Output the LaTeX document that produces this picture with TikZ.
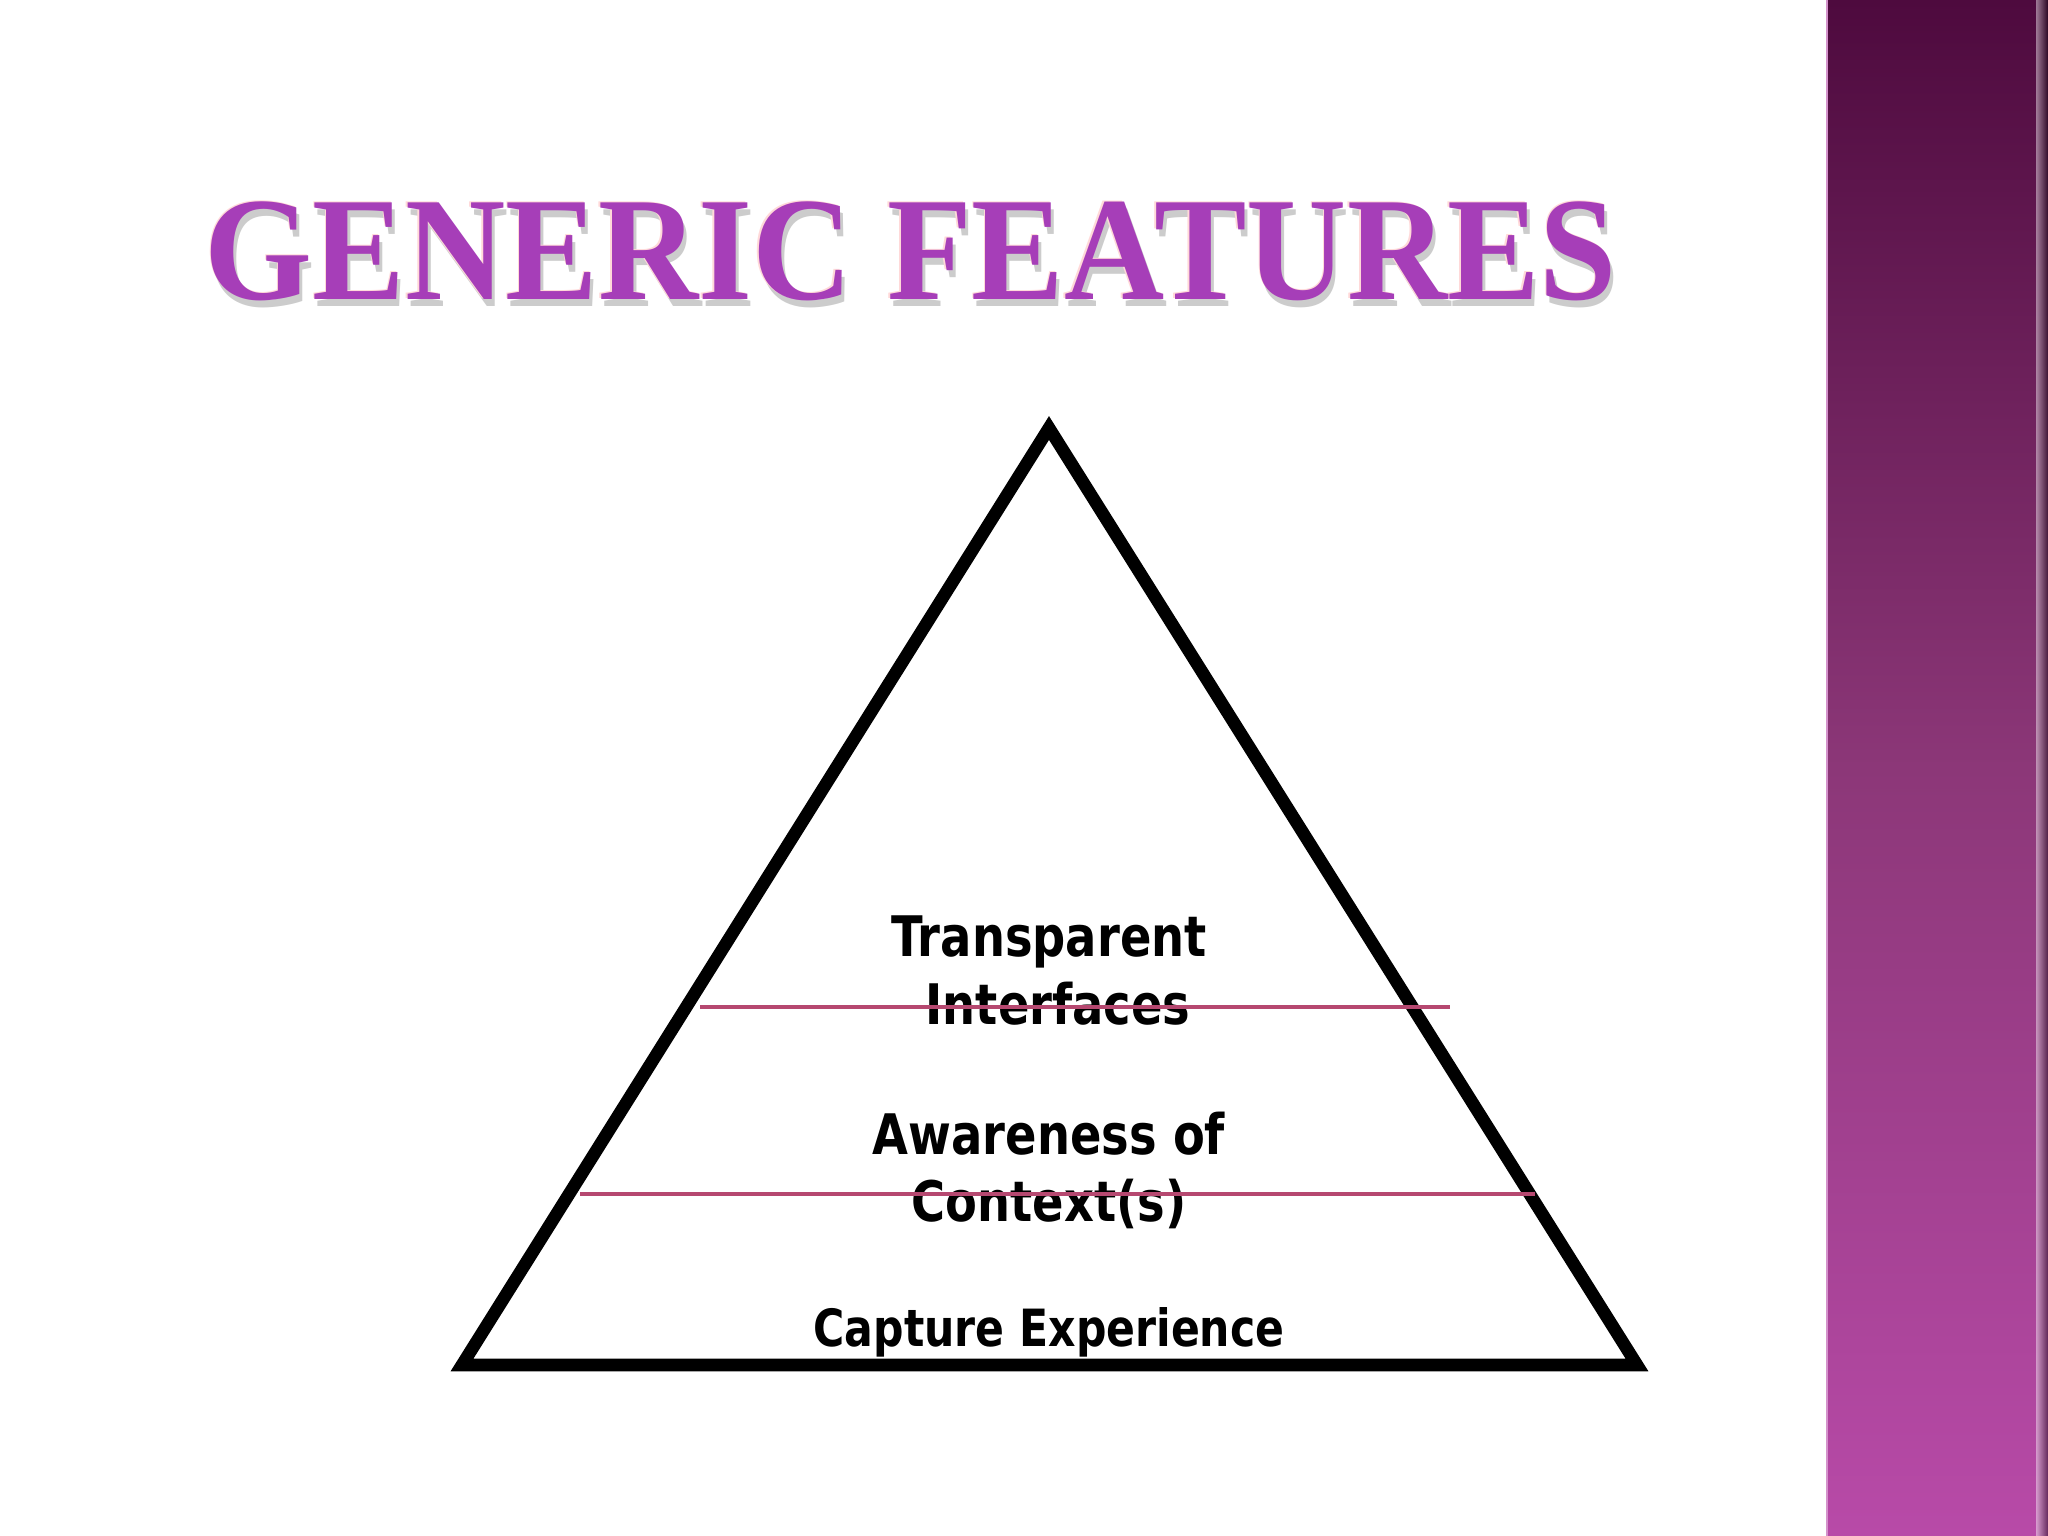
\documentclass[tikz,border=0pt]{standalone}
\usepackage{fontspec}
\usepackage{xcolor}
\newfontfamily\labelfont{DejaVu Sans}[FakeStretch=0.83]
\newfontfamily\titlefont{Liberation Serif}[FakeStretch=0.94]
\definecolor{plumtop}{RGB}{78,10,62}
\definecolor{plummid}{RGB}{140,55,120}
\definecolor{plumbot}{RGB}{184,74,168}
\definecolor{titlepurple}{RGB}{166,62,184}
\definecolor{layerline}{RGB}{182,72,112}

\begin{document}
\begin{tikzpicture}[
    level/.style={font=\labelfont\bfseries\fontsize{15.9}{19}\selectfont,inner sep=0pt,anchor=base},
    baselevel/.style={font=\labelfont\bfseries\fontsize{14.6}{17}\selectfont,inner sep=0pt,anchor=base},
    heading/.style={font=\titlefont\bfseries\fontsize{42}{48}\selectfont,inner sep=0pt,anchor=base}]
    \useasboundingbox (0,0) rectangle (20.48,15.36);
    \fill[white] (0,0) rectangle (20.48,15.36);
    % side bar
    \shade[top color=plumtop,bottom color=plumbot,middle color=plummid] (18.26,0) rectangle (20.48,15.36);
    \shade[left color=plumtop!0,right color=black,opacity=0.45] (20.36,0) rectangle (20.48,15.36);
    \draw[plumbot!60!white,line width=0.6pt] (18.27,0)--(18.27,15.36);
    % title
    \node[heading,text=gray!40] (T0) at (9.14,12.29) {GENERIC FEATURES};
    \node[heading,text=pink!60!white] (T1) at (9.095,12.375) {GENERIC FEATURES};
    \node[heading,text=titlepurple] (T) at (9.11,12.36) {GENERIC FEATURES};
    % pyramid
    \coordinate (top) at (10.49,11.08);
    \coordinate (bl) at (4.62,1.71);
    \coordinate (br) at (16.37,1.71);
    \draw[line width=3.6pt,line join=miter] (top)--(bl)--(br)--cycle;
    \node[level] (L1a) at (10.49,5.79) {Transparent};
    \node[level] (L1b) at (10.58,5.11) {Interfaces};
    \node[level] (L2a) at (10.49,3.81) {Awareness of};
    \node[level] (L2b) at (10.49,3.14) {Context(s)};
    \node[baselevel] (L3) at (10.49,1.89) {Capture Experience};
    \coordinate (s1l) at (7.00,5.29);
    \coordinate (s1r) at (14.50,5.29);
    \coordinate (s2l) at (5.80,3.42);
    \coordinate (s2r) at (15.35,3.42);
    \draw[layerline,line width=0.9pt] (s1l)--(s1r);
    \draw[layerline,line width=0.9pt] (s2l)--(s2r);
\end{tikzpicture}
\end{document}
